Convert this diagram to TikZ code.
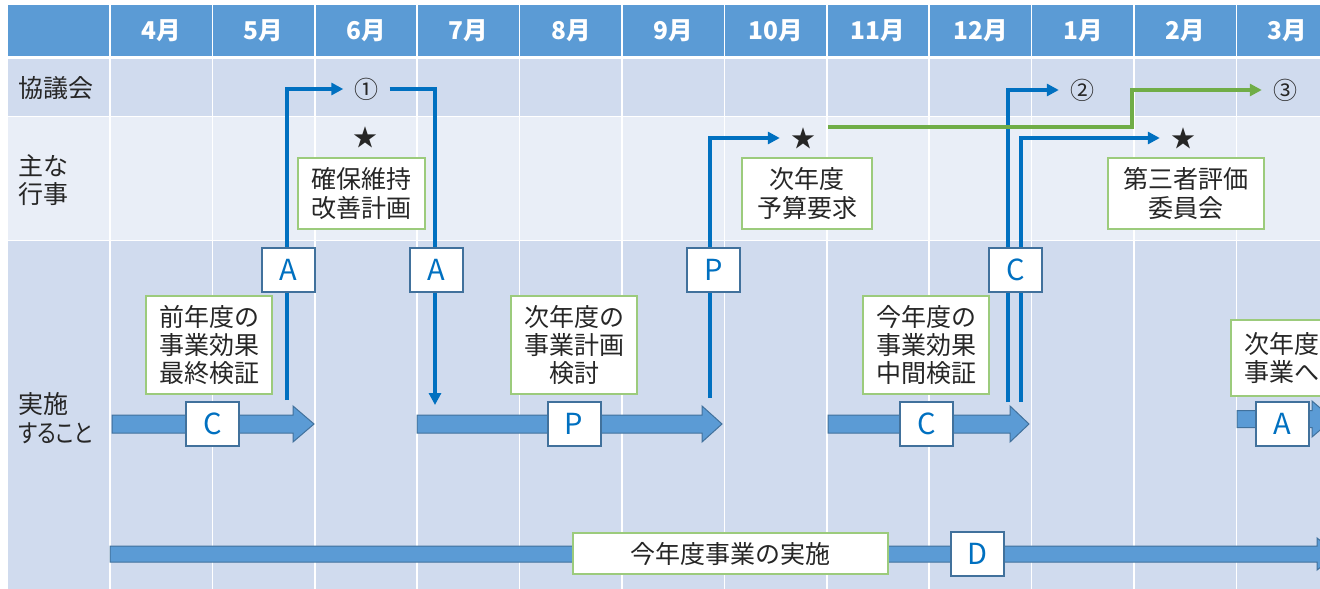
\documentclass[tikz,border=0pt]{standalone}
\usepackage{fontspec}
\usepackage{graphicx}
\setmainfont{Noto Sans CJK JP}
\usetikzlibrary{arrows.meta}
\definecolor{hdr}{HTML}{5B9BD5}
\definecolor{rowA}{HTML}{D0DBEE}
\definecolor{rowB}{HTML}{E9EEF7}
\definecolor{arrline}{HTML}{41719C}
\definecolor{cblue}{HTML}{0070C0}
\definecolor{ggreen}{HTML}{70AD47}
\definecolor{grnbox}{HTML}{9CCB7C}
\definecolor{ink}{HTML}{262626}
\pgfdeclarelayer{bg}
\pgfdeclarelayer{mid}
\pgfsetlayers{bg,mid,main}
\begin{document}
\begin{tikzpicture}[x=1pt,y=-1pt,
  gbox/.style={draw=grnbox, line width=1.6pt, fill=white, align=center, inner sep=0pt, text=ink, font=\fontsize{25}{28.3}\selectfont},
  lbox/.style={draw=arrline, line width=2pt, fill=white, minimum width=53pt, minimum height=44pt, inner sep=0pt, text=cblue, font=\fontsize{29}{32}\selectfont},
  mk/.style={inner xsep=11pt, inner ysep=0pt, text=ink, font=\fontsize{24}{28}\selectfont},
  cline/.style={draw=cblue, line width=3.5pt, -{Triangle[length=12pt,width=12pt]}},
  gline/.style={draw=ggreen, line width=3.5pt, -{Triangle[length=12pt,width=12pt]}},
  barr/.style={fill=hdr, draw=arrline, line width=1pt},
  month/.style={text=white, font=\fontsize{24.5}{26}\selectfont\bfseries},
  rowlbl/.style={anchor=west, align=left, text=ink, font=\fontsize{25}{28.5}\selectfont\addfontfeatures{RawFeature=+palt}, inner sep=0pt}
]
\useasboundingbox (0,0) rectangle (1320,589);
\clip (0,0) rectangle (1320,589);

\begin{pgfonlayer}{bg}
  \fill[white] (0,0) rectangle (1320,589);
  \fill[hdr] (8,5) rectangle (1340,56);
  \fill[rowA] (8,59) rectangle (1340,116);
  \fill[rowB] (8,117) rectangle (1340,240);
  \fill[rowA] (8,241) rectangle (1340,589);
  \foreach \i in {0,...,11}
    \draw[white, line width=1.6pt] (110+102.4*\i,5) -- (110+102.4*\i,589);
  % block arrows
  \draw[barr] (112,415) -- (293,415) -- (293,406) -- (314,424) -- (293,442) -- (293,433) -- (112,433) -- cycle;
  \draw[barr] (417,415) -- (702,415) -- (702,406) -- (722,424) -- (702,442) -- (702,433) -- (417,433) -- cycle;
  \draw[barr] (828,415) -- (1010,415) -- (1010,406) -- (1029,424) -- (1010,442) -- (1010,433) -- (828,433) -- cycle;
  \draw[barr] (1237,410.5) -- (1312,410.5) -- (1312,401) -- (1333,419) -- (1312,437) -- (1312,427.5) -- (1237,427.5) -- cycle;
  \draw[barr] (110,546) -- (1317,546) -- (1317,538) -- (1338,554) -- (1317,570) -- (1317,562) -- (110,562) -- cycle;
\end{pgfonlayer}

% header months
\foreach \m [count=\i from 0] in {4月,5月,6月,7月,8月,9月,10月,11月,12月,1月,2月,3月}
  \node[month] (m\i) at (161.2+102.4*\i,31) {\m};

% row labels
\node[rowlbl] (r1) at (18,88) {協議会};
\node[rowlbl] (r2) at (18,180) {主な\\行事};
\node[rowlbl] (r3) at (18,418) {実施\\\scalebox{0.84}[1]{すること}};

% meeting marks and stars
\node[mk] (n1) at (366.5,89) {①};
\node[mk] (n2) at (1082,90) {②};
\node[mk] (n3) at (1285,90) {③};
\node[mk] (st1) at (365,137) {★};
\node[mk] (st2) at (803,138) {★};
\node[mk] (st3) at (1183,138) {★};

% event boxes
\node[gbox, minimum width=127pt, minimum height=71pt] (ev1) at (361.5,193.5) {確保維持\\改善計画};
\node[gbox, minimum width=130pt, minimum height=71pt] (ev2) at (807,193.5) {次年度\\予算要求};
\node[gbox, minimum width=156pt, minimum height=71pt] (ev3) at (1186,193.5) {第三者評価\\委員会};

% task boxes
\node[gbox, minimum width=126pt, minimum height=98pt] (t1) at (209,345) {前年度の\\事業効果\\最終検証};
\node[gbox, minimum width=126pt, minimum height=98pt] (t2) at (574,345) {次年度の\\事業計画\\検討};
\node[gbox, minimum width=126pt, minimum height=98pt] (t3) at (926,345) {今年度の\\事業効果\\中間検証};
\node[gbox, minimum width=102pt, minimum height=76pt] (t4) at (1282,358) {次年度\\事業へ};
\node[gbox, minimum width=315pt, minimum height=41pt] (t5) at (730.5,553.5) {今年度事業の実施};

% letter boxes
\node[lbox] (A1) at (288,270) {A};
\node[lbox] (A2) at (436.5,270) {A};
\node[lbox] (P1) at (713.5,270) {P};
\node[lbox] (C1) at (1015.5,270) {C};
\node[lbox] (Cb1) at (212.5,424) {C};
\node[lbox] (Pb) at (574,424) {P};
\node[lbox] (Cb2) at (926.5,424) {C};
\node[lbox] (Ab) at (1282.5,424) {A};
\node[lbox] (Db) at (977,553.5) {D};

% connector end points
\coordinate (s1) at (287,400);
\coordinate (e2) at (435,405);
\coordinate (s3) at (710,398);
\coordinate (s4) at (1008,402);
\coordinate (s5) at (1021,402);
\coordinate (g0) at (828,127);
\coordinate (g1) at (1132,90);

\begin{pgfonlayer}{mid}
  \draw[cline] (s1) |- (n1.west);
  \draw[cline] (n1.east) -| (e2);
  \draw[cline] (s3) |- (st2.west);
  \draw[cline] (s4) |- (n2.west);
  \draw[cline] (s5) |- (st3.west);
  \draw[gline] (g0) -| (g1) -- (n3.west);
\end{pgfonlayer}
\end{tikzpicture}
\end{document}
